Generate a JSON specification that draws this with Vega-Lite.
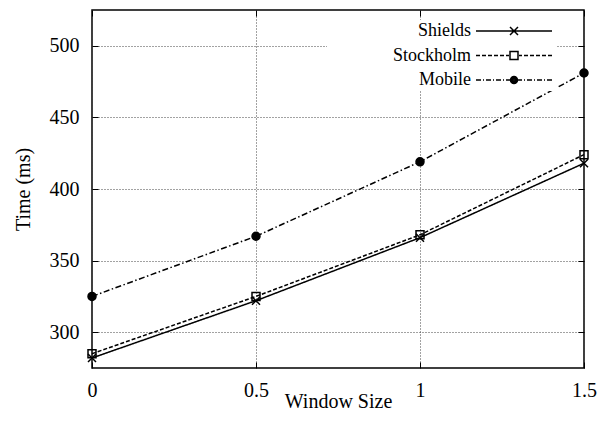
{
  "$schema": "https://vega.github.io/schema/vega-lite/v6.json",
  "width": 492,
  "height": 358,
  "autosize": {"type": "none"},
  "padding": {"left": 92, "top": 10, "right": 23, "bottom": 56},
  "background": "white",
  "config": {
    "view": {"stroke": "black", "strokeWidth": 1.5},
    "axis": {
      "domain": false,
      "tickSize": -6,
      "tickColor": "black",
      "tickWidth": 1,
      "labelFont": "Liberation Serif",
      "labelFontSize": 20,
      "labelColor": "black",
      "labelFlush": false,
      "labelOverlap": false,
      "titleFont": "Liberation Serif",
      "titleFontWeight": "normal",
      "titleColor": "black",
      "gridColor": "#444",
      "gridDash": [1, 2],
      "gridWidth": 1,
      "gridOpacity": 1
    }
  },
  "data": {
    "values": [
      {"series": "Shields", "window": 0, "time": 282},
      {"series": "Shields", "window": 0.5, "time": 322},
      {"series": "Shields", "window": 1, "time": 366},
      {"series": "Shields", "window": 1.5, "time": 418},
      {"series": "Stockholm", "window": 0, "time": 285},
      {"series": "Stockholm", "window": 0.5, "time": 325},
      {"series": "Stockholm", "window": 1, "time": 368},
      {"series": "Stockholm", "window": 1.5, "time": 424},
      {"series": "Mobile", "window": 0, "time": 325},
      {"series": "Mobile", "window": 0.5, "time": 367},
      {"series": "Mobile", "window": 1, "time": 419},
      {"series": "Mobile", "window": 1.5, "time": 481}
    ]
  },
  "resolve": {
    "axis": {"x": "independent", "y": "independent"},
    "scale": {"shape": "independent"}
  },
  "layer": [
    {
      "mark": {"type": "line", "color": "black", "strokeWidth": 1.5},
      "encoding": {
        "x": {
          "field": "window",
          "type": "quantitative",
          "scale": {"domain": [0, 1.5], "nice": false, "zero": false},
          "axis": {
            "orient": "bottom",
            "title": "Window Size",
            "titleFontSize": 20,
            "titlePadding": -9,
            "values": [0, 0.5, 1, 1.5],
            "format": "~g",
            "labelPadding": 18,
            "grid": true
          }
        },
        "y": {
          "field": "time",
          "type": "quantitative",
          "scale": {"domain": [275, 525], "nice": false, "zero": false},
          "axis": {
            "orient": "left",
            "title": "Time (ms)",
            "titleFontSize": 20,
            "titlePadding": 16,
            "values": [300, 350, 400, 450, 500],
            "labelPadding": 19,
            "grid": true
          }
        },
        "detail": {"field": "series"},
        "strokeDash": {
          "field": "series",
          "type": "nominal",
          "scale": {
            "domain": ["Stockholm", "Shields", "Mobile"],
            "range": [[4, 2], [1, 0], [6, 2.5, 1.5, 2.5]]
          },
          "legend": null
        }
      }
    },
    {
      "mark": {"type": "point", "stroke": "black", "strokeWidth": 1.5, "size": 64, "opacity": 1},
      "encoding": {
        "x": {
          "field": "window",
          "type": "quantitative",
          "scale": {"domain": [0, 1.5], "nice": false, "zero": false},
          "axis": {
            "orient": "top",
            "title": null,
            "labels": false,
            "grid": false,
            "values": [0, 0.5, 1, 1.5],
            "zindex": 1
          }
        },
        "y": {
          "field": "time",
          "type": "quantitative",
          "scale": {"domain": [275, 525], "nice": false, "zero": false},
          "axis": {
            "orient": "right",
            "title": null,
            "labels": false,
            "grid": false,
            "values": [300, 350, 400, 450, 500],
            "zindex": 1
          }
        },
        "shape": {
          "field": "series",
          "type": "nominal",
          "scale": {
            "domain": ["Mobile", "Shields", "Stockholm"],
            "range": ["circle", "M-1,-1L1,1M-1,1L1,-1", "square"]
          },
          "legend": null
        },
        "fill": {
          "field": "series",
          "type": "nominal",
          "scale": {
            "domain": ["Shields", "Stockholm", "Mobile"],
            "range": ["transparent", "transparent", "black"]
          },
          "legend": null
        }
      }
    },
    {
      "mark": {"type": "point", "stroke": "black", "strokeWidth": 1.5, "opacity": 0},
      "encoding": {
        "x": {"field": "window", "type": "quantitative", "axis": null},
        "y": {"field": "time", "type": "quantitative", "axis": null},
        "shape": {
          "field": "series",
          "type": "nominal",
          "scale": {
            "domain": ["Shields", "Stockholm", "Mobile"],
            "range": [
              "M-7.6,0H7.6M-0.8,-0.8L0.8,0.8M-0.8,0.8L0.8,-0.8",
              "M-7.6,0H-6.8M-6.4,0H-5.6M-5.2,0H-4.4M-4,0H-3.2M-2.8,0H-2M-1.6,0H-1M1,0H1.6M2,0H2.8M3.2,0H4M4.4,0H5.2M5.6,0H6.4M6.8,0H7.6M-0.8,-0.8H0.8V0.8H-0.8Z",
              "M-7.6,0H-6.6M-6.2,0H-6M-5.6,0H-4.6M-4.2,0H-4M-3.6,0H-2.6M-2.2,0H-2M-1.6,0H-0.8M0.8,0H1.6M2,0H2.2M2.6,0H3.6M4,0H4.2M4.6,0H5.6M6,0H6.2M6.6,0H7.6M0.7,0A0.7,0.7,0,1,1,-0.7,0A0.7,0.7,0,1,1,0.7,0ZM0.45,0A0.45,0.45,0,1,1,-0.45,0A0.45,0.45,0,1,1,0.45,0ZM0.2,0A0.2,0.2,0,1,1,-0.2,0A0.2,0.2,0,1,1,0.2,0Z"
            ]
          },
          "legend": {
            "title": null,
            "orient": "none",
            "legendX": 235,
            "legendY": 10,
            "padding": 2,
            "fillColor": "white",
            "rowPadding": 6.5,
            "symbolSize": 100,
            "symbolOpacity": 1,
            "symbolFillColor": "transparent",
            "symbolStrokeWidth": 1.5,
            "symbolStrokeColor": "black",
            "symbolOffset": 176,
            "labelOffset": -52,
            "labelAlign": "right",
            "labelFont": "Liberation Serif",
            "labelFontSize": 18,
            "labelColor": "black"
          }
        }
      }
    }
  ]
}
